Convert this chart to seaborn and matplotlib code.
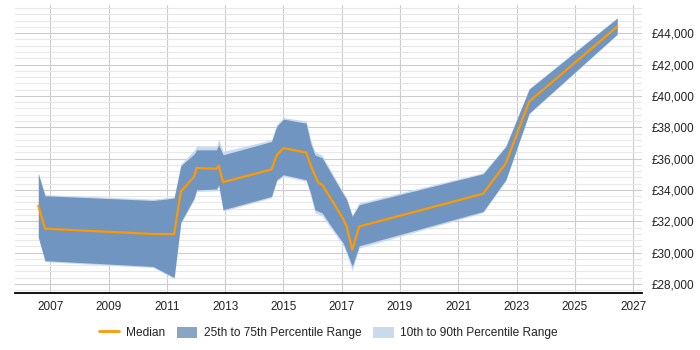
import matplotlib
matplotlib.use("Agg")
import matplotlib.pyplot as plt
import matplotlib.ticker as mticker
from matplotlib.lines import Line2D
from matplotlib.patches import Patch
import seaborn as sns
import pandas as pd

# ---- data ----
years = [2006.59, 2006.82, 2010.53, 2011.25, 2011.48, 2011.94, 2012.02, 2012.70, 2012.78,
         2012.93, 2014.59, 2014.77, 2015.00, 2015.78, 2015.93, 2016.08, 2016.19, 2016.33,
         2016.65, 2017.05, 2017.17, 2017.36, 2017.60, 2021.85, 2022.63, 2023.43, 2026.45]
median = [33000, 31530, 31190, 31190, 33900, 34860, 35400, 35350, 35560,
          34500, 35310, 36220, 36670, 36390, 35600, 34950, 34480, 34330,
          33380, 32150, 31670, 30190, 31670, 33760, 35710, 39640, 44420]
p75 = [35030, 33630, 33330, 33480, 35550, 36300, 36560, 36560, 36880,
       36240, 37090, 38050, 38520, 38260, 37000, 36240, 36150, 36050,
       35010, 33750, 33380, 32310, 33060, 35030, 36770, 40430, 44960]
p25 = [31000, 29490, 29120, 28420, 31950, 33500, 34010, 34060, 34330,
       32740, 33590, 34650, 34970, 34650, 33800, 32740, 32650, 32530,
       31650, 30620, 30060, 29130, 30440, 32630, 34650, 38900, 43940]
p90 = [35100, 33700, 33420, 33560, 35650, 36550, 36800, 36800, 37250,
       36450, 37200, 38200, 38620, 38400, 37250, 36450, 36350, 36200,
       35150, 33850, 33480, 32420, 33180, 35100, 36850, 40480, 45000]
p10 = [30950, 29420, 29050, 28330, 31850, 33400, 33900, 33950, 34200,
       32650, 33500, 34550, 34880, 34550, 33650, 32550, 32450, 32350,
       31500, 30450, 29900, 28850, 30300, 32550, 34600, 38850, 43900]
x_ticks = [2007, 2009, 2011, 2013, 2015, 2017, 2019, 2021, 2023, 2025, 2027]
y_ticks = [28000, 30000, 32000, 34000, 36000, 38000, 40000, 42000, 44000]
legend_labels = ["Median", "25th to 75th Percentile Range", "10th to 90th Percentile Range"]

df = pd.DataFrame({"year": years, "median": median, "p25": p25, "p75": p75,
                   "p10": p10, "p90": p90})

sns.set_theme(style="white")
plt.rcParams["font.family"] = ["Liberation Sans", "DejaVu Sans"]

fig = plt.figure(figsize=(7, 3.5), dpi=100)
ax = fig.add_axes([0.0214, 0.1637, 0.8957, 0.8220])

light = "#c9daee"
dark = "#6f95c0"
orange = "#ff9900"

ax.fill_between(df["year"], df["p10"], df["p90"], color=light, lw=0, zorder=2)
ax.fill_between(df["year"], df["p25"], df["p75"], color=dark, lw=0, zorder=3)
sns.lineplot(data=df, x="year", y="median", color=orange, lw=1.6, ax=ax, zorder=4)

ax.set_xlim(2005.79, 2027.30)
ax.set_ylim(27445, 45800)
ax.set_xticks(x_ticks)
ax.set_yticks(y_ticks)
ax.yaxis.set_minor_locator(mticker.MultipleLocator(400))
ax.yaxis.set_major_formatter(mticker.FuncFormatter(lambda v, p: f"£{v:,.0f}"))
ax.yaxis.tick_right()
ax.set_xlabel("")
ax.set_ylabel("")

ax.grid(False)
ax.grid(axis="x", which="major", color="#cccccc", lw=0.8, zorder=0)
ax.grid(axis="y", which="major", color="#cccccc", lw=0.8, zorder=0)
ax.grid(axis="y", which="minor", color="#e8e8e8", lw=0.8, zorder=0)
ax.set_axisbelow(True)

for s in ["left", "right", "top"]:
    ax.spines[s].set_visible(False)
ax.spines["bottom"].set_color("#000000")
ax.spines["bottom"].set_linewidth(1.3)

ax.tick_params(axis="x", length=0, pad=6, labelsize=8.5, labelcolor="#222222")
ax.tick_params(axis="y", which="both", length=0, pad=7, labelsize=8.5, labelcolor="#222222")

handles = [Line2D([0], [0], color=orange, lw=2),
           Patch(facecolor="#88a5c6", edgecolor="none"),
           Patch(facecolor=light, edgecolor="none")]
ax.legend(handles, legend_labels, loc="center", bbox_to_anchor=(0.5, -0.14),
          ncol=3, frameon=False, fontsize=8.6, handlelength=1.7, handleheight=1.1,
          handletextpad=0.55, columnspacing=1.0, labelcolor="#222222")

fig.savefig("out.png", dpi=100)
